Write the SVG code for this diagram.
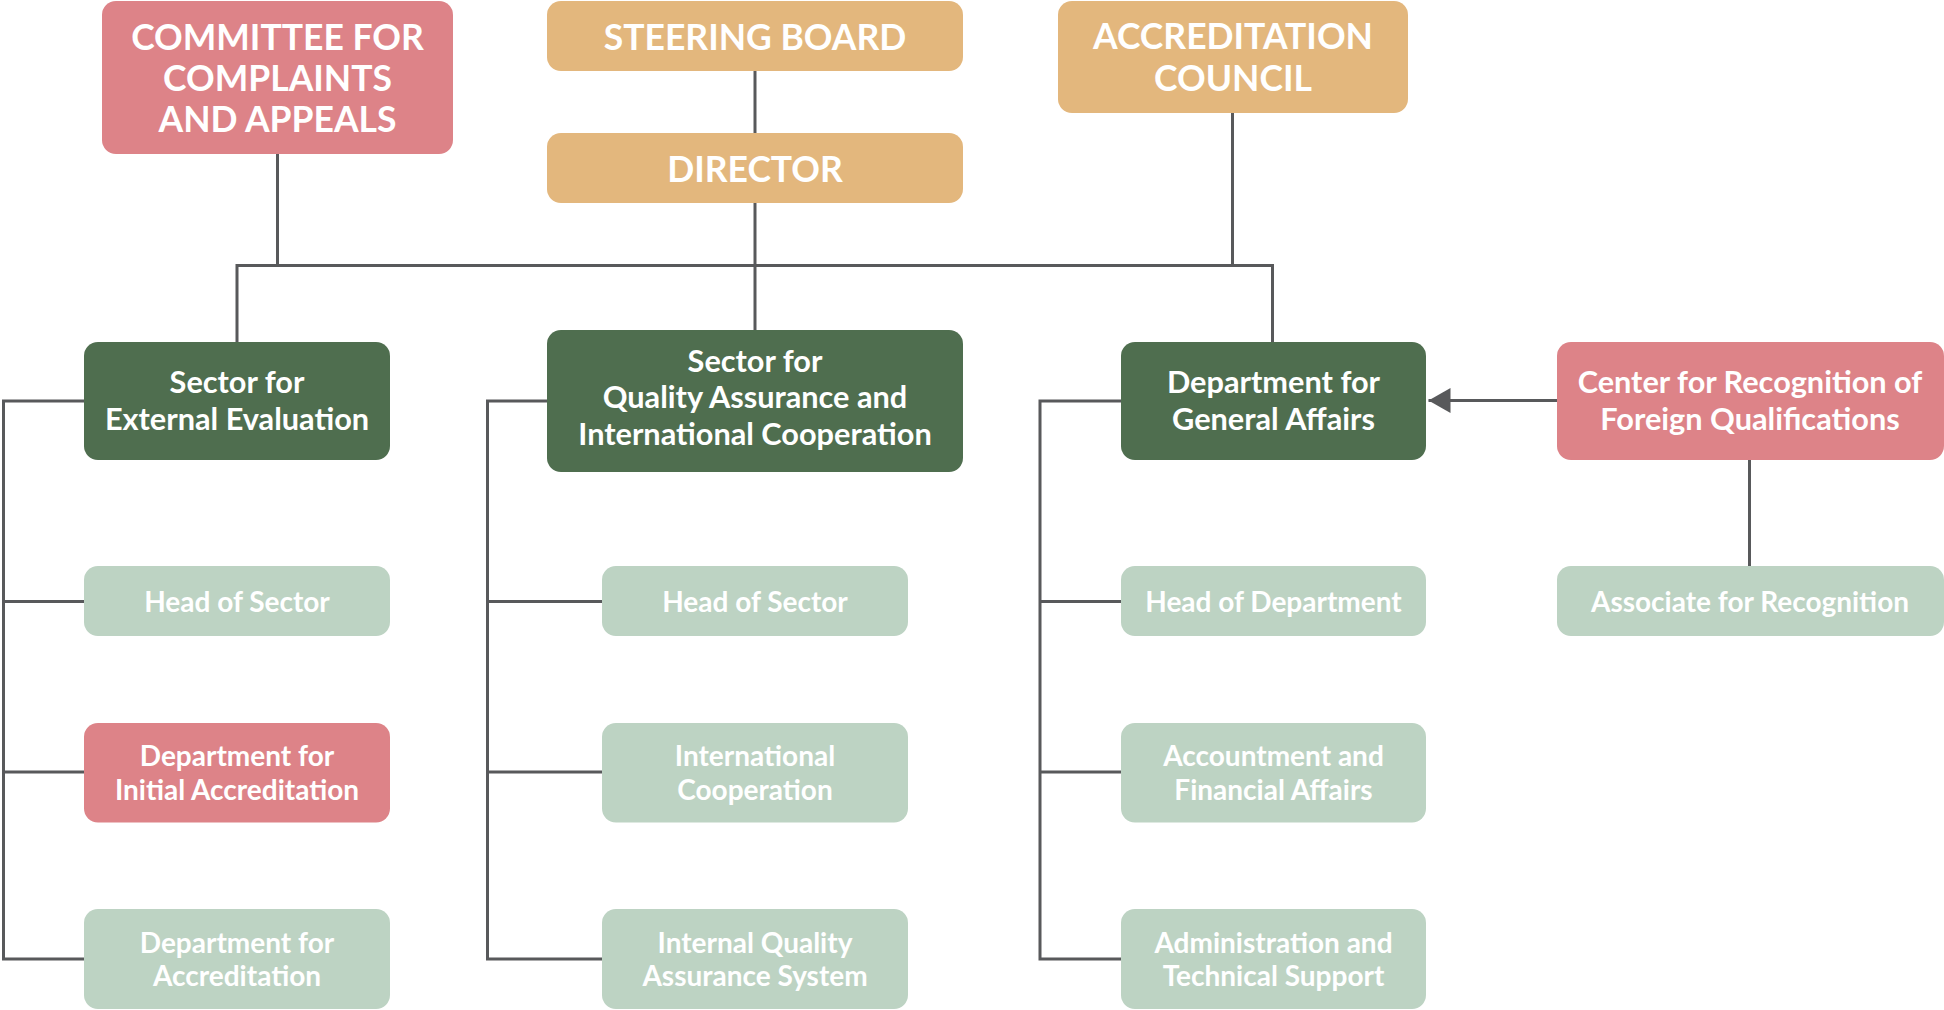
<svg xmlns="http://www.w3.org/2000/svg" width="1944" height="1010" viewBox="0 0 1944 1010">
<style>
.pink{fill:#DD8388}
.orange{fill:#E3B77D}
.dark{fill:#4F6E4F}
.light{fill:#BDD3C3}
text{font-family:Lato,"Open Sans","Liberation Sans",sans-serif;font-weight:700;fill:#fff;text-anchor:middle}
.big{font-size:35.5px}
.mid{font-size:30.7px}
.sm{font-size:28px}
.conn{fill:none;stroke:#58595B;stroke-width:3}
</style>
<defs>
<marker id="arr" markerUnits="userSpaceOnUse" markerWidth="24" markerHeight="26" refX="22" refY="13" orient="auto">
<path d="M0,0.5 L22,13 L0,25.5 Z" fill="#58595B"/>
</marker>
</defs>
<rect width="1944" height="1010" fill="#fff"/>
<g id="connectors">
<path class="conn" d="M755 71V133"/>
<path class="conn" d="M277.5 154V265.5"/>
<path class="conn" d="M237 342V265.5H1272.5V342"/>
<path class="conn" d="M755 203V330"/>
<path class="conn" d="M1232.5 113V265.5"/>
<path class="conn" d="M84 401H3.5V959H84M3.5 601.5H84M3.5 772H84"/>
<path class="conn" d="M547 401H487.5V959H602M487.5 601.5H602M487.5 772H602"/>
<path class="conn" d="M1121 401H1040V959H1121M1040 601.5H1121M1040 772H1121"/>
<path class="conn" d="M1557 400.5H1428.5" marker-end="url(#arr)"/>
<path class="conn" d="M1749.5 460V566"/>
</g>
<g id="committee"><rect class="pink" x="102" y="1" width="351" height="153" rx="14"/>
<text class="big" x="277.5" y="50">COMMITTEE FOR</text><text class="big" x="277.5" y="91">COMPLAINTS</text><text class="big" x="277.5" y="132">AND APPEALS</text></g>
<g id="steering"><rect class="orange" x="547" y="1" width="416" height="70" rx="14"/>
<text class="big" x="755" y="50">STEERING BOARD</text></g>
<g id="director"><rect class="orange" x="547" y="133" width="416" height="70" rx="14"/>
<text class="big" x="755" y="182">DIRECTOR</text></g>
<g id="council"><rect class="orange" x="1058" y="1" width="350" height="112" rx="14"/>
<text class="big" x="1233" y="49">ACCREDITATION</text><text class="big" x="1233" y="91">COUNCIL</text></g>
<g id="sector-ext"><rect class="dark" x="84" y="342" width="306" height="118" rx="14"/>
<text class="mid" x="237" y="393">Sector for</text><text class="mid" x="237" y="430">External Evaluation</text></g>
<g id="sector-qa"><rect class="dark" x="547" y="330" width="416" height="142" rx="14"/>
<text class="mid" x="755" y="372">Sector for</text><text class="mid" x="755" y="408">Quality Assurance and</text><text class="mid" x="755" y="445">International Cooperation</text></g>
<g id="dept-ga"><rect class="dark" x="1121" y="342" width="305" height="118" rx="14"/>
<text class="mid" x="1273.5" y="393">Department for</text><text class="mid" x="1273.5" y="430">General Affairs</text></g>
<g id="center"><rect class="pink" x="1557" y="342" width="387" height="118" rx="14"/>
<text class="mid" x="1750" y="393">Center for Recognition of</text><text class="mid" x="1750" y="430">Foreign Qualifications</text></g>
<g id="head1"><rect class="light" x="84" y="566" width="306" height="70" rx="14"/>
<text class="sm" x="237" y="611.5">Head of Sector</text></g>
<g id="dept-initial"><rect class="pink" x="84" y="723" width="306" height="99.5" rx="14"/>
<text class="sm" x="237" y="765.5">Department for</text><text class="sm" x="237" y="800">Initial Accreditation</text></g>
<g id="dept-accr"><rect class="light" x="84" y="909" width="306" height="100" rx="14"/>
<text class="sm" x="237" y="952.5">Department for</text><text class="sm" x="237" y="986">Accreditation</text></g>
<g id="head2"><rect class="light" x="602" y="566" width="306" height="70" rx="14"/>
<text class="sm" x="755" y="611.5">Head of Sector</text></g>
<g id="intl-coop"><rect class="light" x="602" y="723" width="306" height="99.5" rx="14"/>
<text class="sm" x="755" y="765.5">International</text><text class="sm" x="755" y="800">Cooperation</text></g>
<g id="iqas"><rect class="light" x="602" y="909" width="306" height="100" rx="14"/>
<text class="sm" x="755" y="952.5">Internal Quality</text><text class="sm" x="755" y="986">Assurance System</text></g>
<g id="head-dept"><rect class="light" x="1121" y="566" width="305" height="70" rx="14"/>
<text class="sm" x="1273.5" y="611.5">Head of Department</text></g>
<g id="accounting"><rect class="light" x="1121" y="723" width="305" height="99.5" rx="14"/>
<text class="sm" x="1273.5" y="765.5">Accountment and</text><text class="sm" x="1273.5" y="800">Financial Affairs</text></g>
<g id="admin"><rect class="light" x="1121" y="909" width="305" height="100" rx="14"/>
<text class="sm" x="1273.5" y="952.5">Administration and</text><text class="sm" x="1273.5" y="986">Technical Support</text></g>
<g id="associate"><rect class="light" x="1557" y="566" width="387" height="70" rx="14"/>
<text class="sm" x="1750" y="611.5">Associate for Recognition</text></g>
</svg>
